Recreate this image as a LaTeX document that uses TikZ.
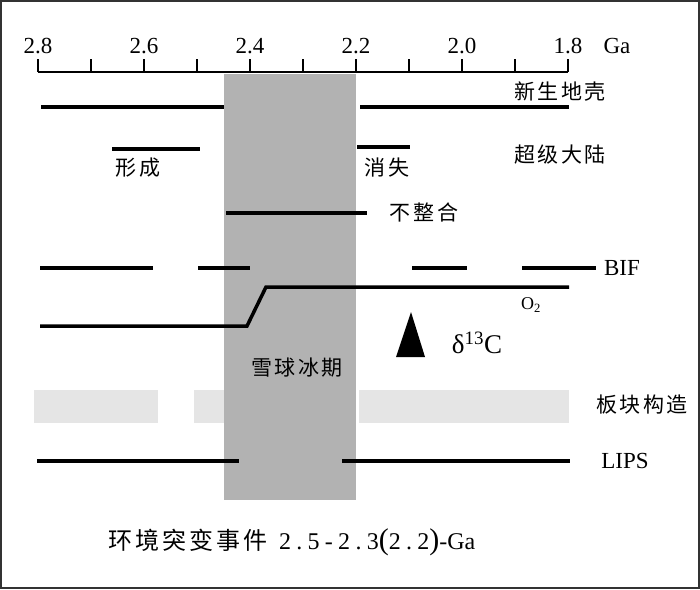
\documentclass[tikz,border=0pt]{standalone}
\usepackage{fontspec}
\setmainfont{Liberation Serif}
\newfontfamily\cjk[LetterSpace=12]{Noto Sans CJK SC}
\newfontfamily\spaced[LetterSpace=22]{Liberation Serif}
\usetikzlibrary{positioning}
\tikzset{
    band/.style={fill=black!30, draw=none},
    plate/.style={fill=black!10, draw=none},
    event/.style={line width=3.5pt},
    axisline/.style={line width=1.6pt},
    lbl/.style={font=\fontsize{23}{26}\selectfont},
    cjklbl/.style={font=\cjk\fontsize{21}{24}\selectfont},
}
\begin{document}
\begin{tikzpicture}[x=1pt, y=-1pt]
    \useasboundingbox (0,0) rectangle (700,589);
    \draw[line width=2pt, black!80] (1,1) rectangle (699,588);

    % time axis
    \draw[axisline] (38,72) -- (568,72);
    \foreach \i in {0,...,10}
        \draw[axisline] (38+53*\i,72) -- ++(0,-13);
    \foreach \a [count=\i from 0] in {2.8,2.6,2.4,2.2,2.0,1.8}
        \node[lbl] (tick\i) at (38+106*\i,46) {\a};
    \node[lbl] (ga) at (617,46) {Ga};

    % plate tectonics, then the snowball band over it
    \fill[plate] (34,390) rectangle (158,423);
    \fill[plate] (194,390) rectangle (224,423);
    \fill[plate] (359,390) rectangle (569,423);
    \fill[band] (224,74) rectangle (356,500);

    % juvenile crust
    \draw[event] (41,107) -- (224,107);
    \draw[event] (360,107) -- (569,107);
    \node[cjklbl] (crust) at (560,92) {新生地壳};

    % supercontinent
    \draw[event] (112,149) -- (200,149);
    \draw[event] (357,147) -- (410,147);
    \node[cjklbl] (form) at (138,168) {形成};
    \node[cjklbl] (vanish) at (387,168) {消失};
    \node[cjklbl] (super) at (560,155) {超级大陆};

    % unconformity
    \draw[event] (226,213) -- (367,213);
    \node[cjklbl] (unconf) at (424,212) {不整合};

    % BIF
    \foreach \a/\b in {40/153, 198/250, 412/467, 522/596}
        \draw[event] (\a,268) -- (\b,268);
    \node[lbl] (bif) at (622,268) {BIF};

    % oxygen
    \draw[event, line join=miter] (40,326) -- (247,326) -- (266,287) -- (569,287);
    \node[font=\fontsize{18}{20}\selectfont] (oxy) at (531,305) {O\textsubscript{2}};

    % carbon isotope
    \fill (411,312) -- (425,357) -- (396,357) -- cycle;
    \node[font=\fontsize{27}{30}\selectfont] (carbon) at (477,343) {δ\textsuperscript{13}C};

    \node[cjklbl] (snow) at (297,368) {雪球冰期};
    \node[cjklbl] (plates) at (642,405) {板块构造};

    % LIPs
    \draw[event] (37,461) -- (239,461);
    \draw[event] (342,461) -- (570,461);
    \node[lbl] (lips) at (625,461) {LIPS};

    \node[font=\fontsize{24}{28}\selectfont] (title) at (292,542)
        {{\cjk 环境突变事件}\hspace{12pt}{\spaced 2.5-2.3}{\fontsize{30}{30}\selectfont(}{\spaced 2.2}{\fontsize{30}{30}\selectfont)}-Ga};
\end{tikzpicture}
\end{document}
